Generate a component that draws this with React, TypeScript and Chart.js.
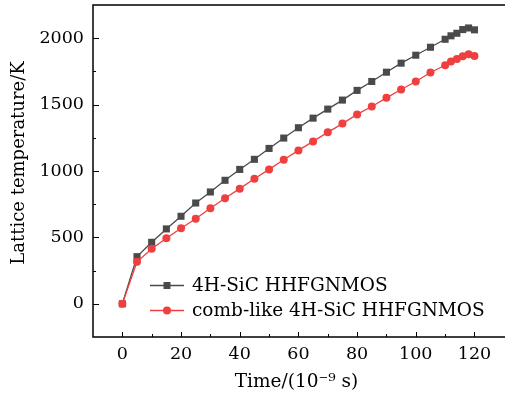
import React, { useEffect, useRef } from "react";
import { Chart, registerables } from "chart.js";

Chart.register(...registerables);

const timeNs = [0, 5, 10, 15, 20, 25, 30, 35, 40, 45, 50, 55, 60, 65, 70, 75, 80, 85, 90, 95, 100, 105, 110, 112, 114, 116, 118, 120];
const tempHHFGNMOS = [0, 355, 463, 564, 659, 759, 842, 930, 1012, 1088, 1170, 1248, 1326, 1398, 1466, 1534, 1607, 1674, 1744, 1812, 1872, 1932, 1992, 2018, 2037, 2065, 2077, 2063];
const tempComb = [0, 316, 414, 494, 569, 641, 720, 795, 867, 942, 1012, 1085, 1155, 1223, 1291, 1357, 1426, 1486, 1551, 1614, 1674, 1742, 1796, 1825, 1843, 1864, 1879, 1866];
const xTickValues = [0, 20, 40, 60, 80, 100, 120];
const yTickValues = [0, 500, 1000, 1500, 2000];
const seriesNames = ["4H-SiC HHFGNMOS", "comb-like 4H-SiC HHFGNMOS"];
const xTitle = "Time/(10\u207B\u2079 s)";
const yTitle = "Lattice temperature/K";

const FONT_FAMILY = '"DejaVu Serif", serif';
const DARK = "#4a4a4a";
const RED = "#ef3f3f";

const framePlugin = {
  id: "frameAndLegend",
  afterDraw(chart: any) {
    const { ctx, chartArea: a, scales } = chart;
    const xs = scales.x;
    const ys = scales.y;
    ctx.save();
    // frame (left, top, bottom)
    ctx.strokeStyle = "#000";
    ctx.lineWidth = 1.5;
    ctx.beginPath();
    ctx.moveTo(chart.width, a.top);
    ctx.lineTo(a.left, a.top);
    ctx.lineTo(a.left, a.bottom);
    ctx.lineTo(chart.width, a.bottom);
    ctx.stroke();

    // ticks (inward)
    ctx.lineWidth = 1;
    ctx.beginPath();
    for (let i = 0; i < yTickValues.length; i++) {
      const y = Math.round(ys.getPixelForValue(yTickValues[i])) + 0.5;
      ctx.moveTo(a.left, y);
      ctx.lineTo(a.left + 6, y);
      const next = i + 1 < yTickValues.length ? yTickValues[i + 1] : yTickValues[i] + (yTickValues[1] - yTickValues[0]);
      const mv = (yTickValues[i] + next) / 2;
      if (mv < ys.max) {
        const my = Math.round(ys.getPixelForValue(mv)) + 0.5;
        ctx.moveTo(a.left, my);
        ctx.lineTo(a.left + 3, my);
      }
    }
    for (let i = 0; i < xTickValues.length; i++) {
      const x = Math.round(xs.getPixelForValue(xTickValues[i])) + 0.5;
      ctx.moveTo(x, a.bottom);
      ctx.lineTo(x, a.bottom - 5);
      const next = i + 1 < xTickValues.length ? xTickValues[i + 1] : xTickValues[i] + (xTickValues[1] - xTickValues[0]);
      const mv = (xTickValues[i] + next) / 2;
      if (mv < xs.max) {
        const mx = Math.round(xs.getPixelForValue(mv)) + 0.5;
        ctx.moveTo(mx, a.bottom);
        ctx.lineTo(mx, a.bottom - 3);
      }
    }
    ctx.stroke();

    // y title
    ctx.fillStyle = "#000";
    ctx.font = `18px ${FONT_FAMILY}`;
    ctx.textAlign = "center";
    ctx.textBaseline = "middle";
    ctx.save();
    ctx.translate(19, 163);
    ctx.rotate(-Math.PI / 2);
    ctx.fillText(yTitle, 0, 0);
    ctx.restore();

    // legend
    const rows = [
      { y: 285.5, color: DARK, shape: "rect", name: seriesNames[0] },
      { y: 310.5, color: RED, shape: "circle", name: seriesNames[1] },
    ];
    rows.forEach((r) => {
      ctx.strokeStyle = r.color;
      ctx.lineWidth = 1.3;
      ctx.beginPath();
      ctx.moveTo(150, r.y);
      ctx.lineTo(184, r.y);
      ctx.stroke();
      ctx.fillStyle = r.color;
      if (r.shape === "rect") {
        ctx.fillRect(167 - 3.5, r.y - 3.5, 7, 7);
      } else {
        ctx.beginPath();
        ctx.arc(167, r.y, 4, 0, Math.PI * 2);
        ctx.fill();
      }
      ctx.fillStyle = "#000";
      ctx.textAlign = "left";
      ctx.textBaseline = "middle";
      ctx.font = `18.5px ${FONT_FAMILY}`;
      ctx.fillText(r.name, 192, r.y + 1);
    });
    ctx.restore();
  },
};

export default function App() {
  const ref = useRef<HTMLCanvasElement | null>(null);
  useEffect(() => {
    if (!ref.current) return;
    const chart = new Chart(ref.current, {
      type: "line",
      data: {
        datasets: [
          {
            label: seriesNames[0],
            data: timeNs.map((t, i) => ({ x: t, y: tempHHFGNMOS[i] })),
            borderColor: DARK,
            backgroundColor: DARK,
            borderWidth: 1.3,
            pointStyle: "rect",
            pointRadius: 5,
            pointBorderWidth: 0,
            pointBackgroundColor: DARK,
            tension: 0,
            order: 2,
          },
          {
            label: seriesNames[1],
            data: timeNs.map((t, i) => ({ x: t, y: tempComb[i] })),
            borderColor: RED,
            backgroundColor: RED,
            borderWidth: 1.3,
            pointStyle: "circle",
            pointRadius: 4,
            pointBorderWidth: 0,
            pointBackgroundColor: RED,
            tension: 0,
            order: 1,
          },
        ],
      },
      options: {
        animation: false,
        responsive: false,
        devicePixelRatio: 1,
        layout: { padding: { top: 4, right: 0, bottom: 0, left: 0 } },
        plugins: { legend: { display: false }, tooltip: { enabled: false } },
        scales: {
          x: {
            type: "linear",
            min: -10,
            max: 128.7,
            grid: { display: false, drawTicks: false },
            border: { display: false },
            afterBuildTicks: (s: any) => {
              s.ticks = xTickValues.map((v) => ({ value: v }));
            },
            afterFit: (s: any) => {
              s.height = 61;
              s.paddingLeft = 0;
              s.paddingRight = 0;
            },
            ticks: {
              autoSkip: false,
              maxRotation: 0,
              padding: 7,
              color: "#000",
              font: { family: FONT_FAMILY, size: 17.5 },
              callback: (v: any) => String(v),
            },
            title: {
              display: true,
              text: xTitle,
              color: "#000",
              font: { family: FONT_FAMILY, size: 18.5 },
              padding: { top: 0, bottom: 5 },
            },
          },
          y: {
            type: "linear",
            min: -250,
            max: 2250,
            grid: { display: false, drawTicks: false },
            border: { display: false },
            afterBuildTicks: (s: any) => {
              s.ticks = yTickValues.map((v) => ({ value: v }));
            },
            afterFit: (s: any) => {
              s.width = 93;
              s.paddingTop = 0;
              s.paddingBottom = 0;
            },
            ticks: {
              padding: 9,
              color: "#000",
              font: { family: FONT_FAMILY, size: 17.5 },
              callback: (v: any) => String(v),
            },
            title: { display: false },
          },
        },
      },
      plugins: [framePlugin],
    } as any);
    return () => chart.destroy();
  }, []);
  return (
    <div style={{ position: "fixed", left: 0, top: 0, width: 505, height: 398, background: "#fff" }}>
      <canvas ref={ref} width={505} height={398} style={{ display: "block" }} />
    </div>
  );
}
